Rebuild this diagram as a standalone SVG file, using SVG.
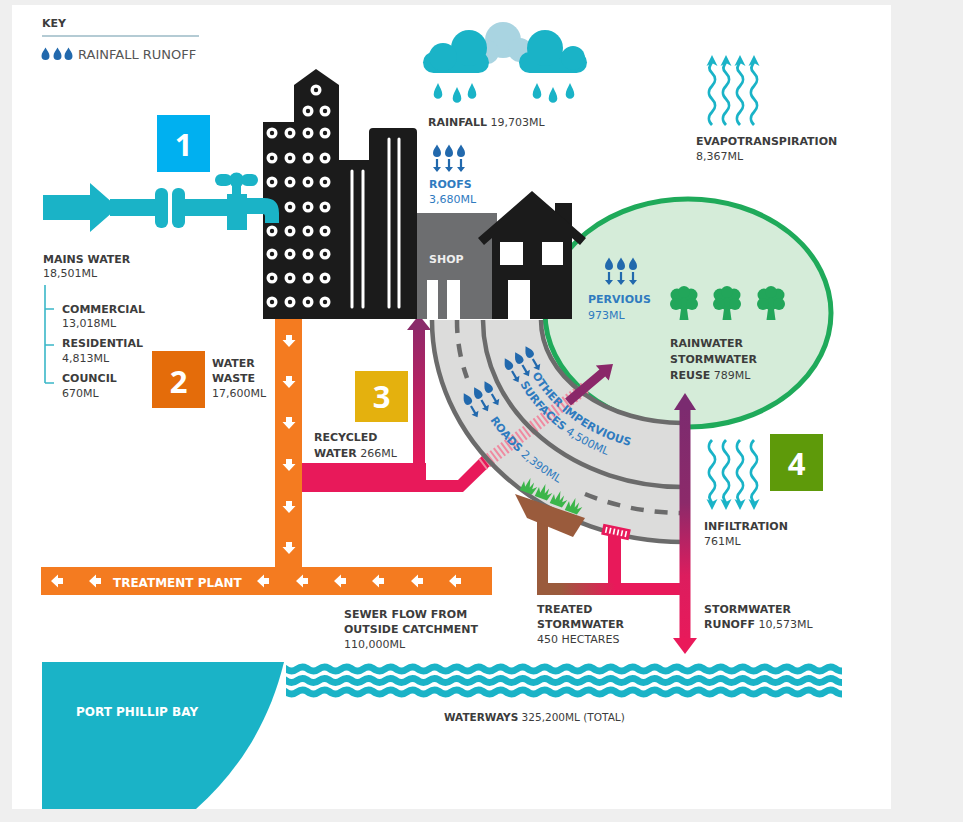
<svg xmlns="http://www.w3.org/2000/svg" width="963" height="822" viewBox="0 0 963 822">
<defs>
<style>
 .t{font-family:"DejaVu Sans","Liberation Sans",sans-serif;font-size:11px;fill:#3c3c3c}
 .b{font-weight:bold}
 .blu{fill:#2f7bbf}
 .wht{fill:#ffffff}
 .badge{font-family:"Open Sans","Liberation Sans",sans-serif;font-size:31px;font-weight:bold;fill:#ffffff;text-anchor:middle}
 .road{fill:none;stroke:#6b6b6b;stroke-width:4.5}
 .wave{fill:none;stroke:#1ab3c7;stroke-width:2.8}
 .win{fill:#ffffff}
 .dot{fill:#1b1b1b}
 .bar{stroke:#ffffff;stroke-width:3;stroke-linecap:round}
</style>
<path id="drop" d="M0,-6.5 C1.6,-3.4 4,-1 4,2 A4,4 0 0 1 -4,2 C-4,-1 -1.6,-3.4 0,-6.5Z"/>
<path id="rdrop" d="M0,-9 C2,-4.5 4.3,-1.5 4.3,2.5 A4.3,4.3 0 0 1 -4.3,2.5 C-4.3,-1.5 -2,-4.5 0,-9Z"/>
<path id="darrow" d="M-1.1,0 H1.1 V8 H4 L0,13 L-4,8 H-1.1Z"/>
<g id="runoff" fill="#2269ad">
 <use href="#drop"/><use href="#drop" x="12"/><use href="#drop" x="24"/>
 <use href="#darrow" y="8"/><use href="#darrow" x="12" y="8"/><use href="#darrow" x="24" y="8"/>
</g>
<g id="wv">
 <path class="wave" d="M0,70 C-4,66 -4,61 0,57 S4,48 0,44 S-4,35 0,31 S4,22 0,18 S-3,12 0,7"/>
 <path d="M-5.5,11 L0,0 L5.5,11 L0,8Z" fill="#1ab3c7"/>
</g>
<path id="ad" d="M-3,-6 H3 V-1 H6.5 L0,6 L-6.5,-1 H-3Z" fill="#ffffff"/>
<path id="al" d="M6,-3 V3 H1 V6.5 L-6,0 L1,-6.5 V-3Z" fill="#ffffff"/>
<g id="win"><circle r="5.5" class="win"/><circle r="2.2" class="dot"/></g>
<g id="tree" fill="#22a65a">
 <circle cx="0" cy="-1" r="10"/><circle cx="-7" cy="-6" r="6.5"/><circle cx="7" cy="-6" r="6.5"/>
 <circle cx="0" cy="-9" r="6"/><circle cx="-8" cy="3" r="6"/><circle cx="8" cy="3" r="6"/>
 <path d="M-3,8 L-4.5,19 H4.5 L3,8Z"/>
</g>
<path id="tuft" d="M-7,8 L-6,-2 L-3,3 L-1,-7 L1.5,2 L4,-4 L4.5,3 L8.5,-1 L6,8Z" fill="#3cb54a"/>
<linearGradient id="gMain" x1="0" y1="393" x2="0" y2="654" gradientUnits="userSpaceOnUse">
 <stop offset="0" stop-color="#7a2b70"/><stop offset="0.42" stop-color="#8c2a6a"/>
 <stop offset="0.7" stop-color="#dc1d5e"/><stop offset="1" stop-color="#ea195a"/>
</linearGradient>
<linearGradient id="gRec" x1="0" y1="316" x2="0" y2="470" gradientUnits="userSpaceOnUse">
 <stop offset="0" stop-color="#8a2a6a"/><stop offset="1" stop-color="#e8195a"/>
</linearGradient>
<linearGradient id="gBot" x1="560" y1="0" x2="615" y2="0" gradientUnits="userSpaceOnUse">
 <stop offset="0" stop-color="#9a5b3c"/><stop offset="1" stop-color="#e8195a"/>
</linearGradient>
<pattern id="pw" patternUnits="userSpaceOnUse" x="286" y="660" width="22" height="40">
 <path d="M-11,9 Q-5.5,5 0,9 T11,9 T22,9 T33,9" fill="none" stroke="#1ab3c7" stroke-width="7"/>
 <path d="M-11,20.5 Q-5.5,16.5 0,20.5 T11,20.5 T22,20.5 T33,20.5" fill="none" stroke="#1ab3c7" stroke-width="7"/>
 <path d="M-11,32 Q-5.5,28 0,32 T11,32 T22,32 T33,32" fill="none" stroke="#1ab3c7" stroke-width="7"/>
</pattern>
<path id="tp1" d="M532,375 A166,135 0 0 0 683,453"/>
<path id="tp2" d="M520,384 A181,151 0 0 0 683,469"/>
<path id="tp3" d="M490,420 A225,198 0 0 0 683,516"/>
</defs>

<!-- page -->
<rect width="963" height="822" fill="#efefef"/>
<rect x="12" y="5" width="879" height="804" fill="#ffffff"/>

<!-- key -->
<g id="key">
 <text class="t b" x="42" y="27">KEY</text>
 <line x1="42" y1="36" x2="199" y2="36" stroke="#9bbac6" stroke-width="1.5"/>
 <g fill="#2269ad"><use href="#drop" x="45.5" y="54"/><use href="#drop" x="57.5" y="54"/><use href="#drop" x="68.5" y="54"/></g>
 <text class="t" x="78" y="59" style="font-size:13px;fill:#555">RAINFALL RUNOFF</text>
</g>

<!-- rainfall -->
<g id="rainfall">
 <g fill="#a9d4e1"><circle cx="503" cy="40" r="18"/><circle cx="487" cy="52" r="12"/><circle cx="520" cy="50" r="12"/></g>
 <g fill="#1ab3c7">
  <rect x="423" y="52" width="66" height="21" rx="10.5"/><circle cx="469" cy="48" r="18"/><circle cx="443" cy="57" r="14"/>
  <rect x="519" y="52" width="68" height="21" rx="10.5"/><circle cx="545" cy="48" r="18"/><circle cx="573" cy="58" r="12"/>
  <use href="#rdrop" x="438" y="92"/><use href="#rdrop" x="457" y="96"/><use href="#rdrop" x="472" y="92"/>
  <use href="#rdrop" x="537" y="92"/><use href="#rdrop" x="553" y="96"/><use href="#rdrop" x="570" y="92"/>
 </g>
 <text class="t" x="428" y="126"><tspan class="b">RAINFALL</tspan> 19,703ML</text>
</g>

<!-- roofs -->
<g id="roofs">
 <use href="#runoff" x="437" y="151"/>
 <text class="t b blu" x="429" y="188">ROOFS</text>
 <text class="t blu" x="429" y="203">3,680ML</text>
</g>

<!-- evapotranspiration -->
<g id="evapotranspiration">
 <use href="#wv" x="712" y="55"/><use href="#wv" x="726" y="55"/><use href="#wv" x="740" y="55"/><use href="#wv" x="754" y="55"/>
 <text class="t b" x="696" y="145">EVAPOTRANSPIRATION</text>
 <text class="t" x="696" y="160">8,367ML</text>
</g>

<!-- pervious open space -->
<g id="pervious">
 <ellipse cx="688" cy="313" rx="143" ry="114" fill="#d5ecd9" stroke="#1faa5a" stroke-width="5"/>
 <use href="#runoff" x="609" y="264"/>
 <text class="t b blu" x="588" y="303">PERVIOUS</text>
 <text class="t blu" x="588" y="319">973ML</text>
 <use href="#tree" x="684" y="301"/><use href="#tree" x="727" y="301"/><use href="#tree" x="771" y="301"/>
 <text class="t b" x="670" y="347">RAINWATER</text>
 <text class="t b" x="670" y="363">STORMWATER</text>
 <text class="t" x="670" y="379"><tspan class="b">REUSE</tspan> 789ML</text>
</g>

<!-- connectors -->
<g id="connectors">
 <!-- recycled water -->
 <g id="recycled">
  <rect x="302" y="463" width="124" height="29" fill="#e8195a"/>
  <path d="M420,480 H458 L487,451 L496,460 L463,492 H420Z" fill="#e8195a"/>
  <rect x="413" y="326" width="12" height="160" fill="url(#gRec)"/>
  <polygon points="407,330 419,315 431,330" fill="#8a2a6a"/>
 </g>

 <!-- roads and impervious surfaces -->
 <g id="roads">
  <path d="M432,320 A251,222 0 0 0 683,542 L683,423 A141,103 0 0 1 542,320 Z" fill="#dcdcdb"/>
  <path d="M585,388 L482,465" stroke="#ef8aa0" stroke-width="13" stroke-dasharray="2 2.5" fill="none"/>
  <path class="road" d="M432,320 A251,222 0 0 0 683,542"/>
  <path class="road" d="M483,320 A200,167 0 0 0 683,487"/>
  <path class="road" d="M541,320 A142,103 0 0 0 683,423"/>
  <path class="road" stroke-dasharray="13 11" d="M457,320 A226,193 0 0 0 467,378"/>
  <path class="road" stroke-dasharray="13 11" d="M585,494 A226,193 0 0 0 683,513"/>
  <use href="#runoff" transform="translate(508,364) rotate(-30)"/>
  <use href="#runoff" transform="translate(467,399) rotate(-30)"/>
  <text class="t b blu"><textPath href="#tp1">OTHER IMPERVIOUS</textPath></text>
  <text class="t blu"><textPath href="#tp2"><tspan class="b">SURFACES</tspan> 4,500ML</textPath></text>
  <text class="t blu"><textPath href="#tp3"><tspan class="b">ROADS</tspan> 2,390ML</textPath></text>
 </g>

 <!-- to reuse -->
 <polygon points="565.1,398.6 599.4,369.6 595.8,365.4 613,364 608.8,380.6 605.2,376.4 570.9,405.4" fill="#8a2869"/>

 <!-- treated stormwater -->
 <g id="treated">
  <rect x="537" y="518" width="11" height="77" fill="#9a5b3c"/>
  <rect x="608" y="536" width="13" height="50" fill="#e8195a"/>
  <rect x="537" y="583" width="148" height="12" fill="url(#gBot)"/>
  <polygon points="515,494 585,518 573,537 527,518" fill="#9a5b3c"/>
  <use href="#tuft" transform="translate(529,485) rotate(20)"/>
  <use href="#tuft" transform="translate(544,491) rotate(20)"/>
  <use href="#tuft" transform="translate(559,498) rotate(20)"/>
  <use href="#tuft" transform="translate(574,505) rotate(20)"/>
  <g transform="translate(616,532) rotate(12)">
   <rect x="-14" y="-5.5" width="28" height="11" fill="#e8195a"/>
   <g stroke="#ffffff" stroke-width="1.6"><line x1="-10" y1="-3" x2="-10" y2="3"/><line x1="-6" y1="-3" x2="-6" y2="3"/><line x1="-2" y1="-3" x2="-2" y2="3"/><line x1="2" y1="-3" x2="2" y2="3"/><line x1="6" y1="-3" x2="6" y2="3"/><line x1="10" y1="-3" x2="10" y2="3"/></g>
  </g>
 </g>

 <!-- stormwater runoff -->
 <g id="runoff-flow">
  <rect x="679.5" y="405" width="11" height="236" fill="url(#gMain)"/>
  <polygon points="674,410 685,393 696,410" fill="#7a2b70"/>
  <polygon points="673,638 697,638 685,654" fill="#ea195a"/>
 </g>

 <!-- sewer -->
 <g id="sewer">
  <rect x="275" y="319" width="27" height="262" fill="#f47b20"/>
  <rect x="41" y="567" width="451" height="28" fill="#f47b20"/>
  <use href="#ad" x="289" y="341"/><use href="#ad" x="289" y="382"/><use href="#ad" x="289" y="423"/>
  <use href="#ad" x="289" y="465"/><use href="#ad" x="289" y="507"/><use href="#ad" x="289" y="548"/>
  <use href="#al" x="57" y="581"/><use href="#al" x="95" y="581"/><use href="#al" x="263" y="581"/>
  <use href="#al" x="302" y="581"/><use href="#al" x="340" y="581"/><use href="#al" x="378" y="581"/>
  <use href="#al" x="417" y="581"/><use href="#al" x="455" y="581"/>
  <text class="t b wht" x="113" y="587" style="font-size:12px">TREATMENT PLANT</text>
 </g>
</g>

<!-- shop -->
<g id="shop">
 <rect x="417" y="213" width="80" height="106" fill="#6d6e70"/>
 <text class="t b" x="429" y="263" style="fill:#eeeeee">SHOP</text>
 <rect x="427" y="280" width="11" height="39" fill="#ffffff"/>
 <rect x="447" y="280" width="13" height="39" fill="#ffffff"/>
</g>

<!-- house -->
<g id="house">
 <rect x="555" y="203" width="17" height="30" fill="#1b1b1b"/>
 <path d="M478,238 L532,191 L586,238 L580,245 L572,238 V319 H492 V238 L484,245 Z" fill="#1b1b1b"/>
 <rect x="500" y="242" width="23" height="23" fill="#ffffff"/>
 <rect x="542" y="242" width="21" height="23" fill="#ffffff"/>
 <rect x="508" y="280" width="22" height="39" fill="#ffffff"/>
</g>

<!-- city buildings -->
<g id="buildings">
 <path d="M263,122 H294 V85 L316,69 L339,85 V160 H369 V132 Q369,128 373,128 H413 Q417,128 417,132 V319 H263 Z" fill="#1b1b1b"/>
 <g class="bar"><line x1="352" y1="171" x2="352" y2="307"/><line x1="363" y1="171" x2="363" y2="307"/>
  <line x1="389" y1="139" x2="389" y2="307"/><line x1="399" y1="139" x2="399" y2="307"/></g>
 <use href="#win" x="316" y="90"/><use href="#win" x="308" y="111"/><use href="#win" x="325" y="111"/>
 <use href="#win" x="272" y="133"/><use href="#win" x="290" y="133"/><use href="#win" x="308" y="133"/><use href="#win" x="325" y="133"/>
 <use href="#win" x="272" y="158"/><use href="#win" x="290" y="158"/><use href="#win" x="308" y="158"/><use href="#win" x="325" y="158"/>
 <use href="#win" x="272" y="182"/><use href="#win" x="290" y="182"/><use href="#win" x="308" y="182"/><use href="#win" x="325" y="182"/>
 <use href="#win" x="290" y="207"/><use href="#win" x="308" y="207"/><use href="#win" x="325" y="207"/>
 <use href="#win" x="272" y="231"/><use href="#win" x="290" y="231"/><use href="#win" x="308" y="231"/><use href="#win" x="325" y="231"/>
 <use href="#win" x="272" y="254"/><use href="#win" x="290" y="254"/><use href="#win" x="308" y="254"/><use href="#win" x="325" y="254"/>
 <use href="#win" x="272" y="278"/><use href="#win" x="290" y="278"/><use href="#win" x="308" y="278"/><use href="#win" x="325" y="278"/>
 <use href="#win" x="272" y="302"/><use href="#win" x="290" y="302"/><use href="#win" x="308" y="302"/><use href="#win" x="325" y="302"/>
</g>

<!-- mains water pipe and tap -->
<g id="mains" fill="#1ab3c7">
 <path d="M43,195 H90 V183 L118,207.5 L90,232 V220 H43 Z"/>
 <rect x="110" y="199" width="48" height="17"/>
 <rect x="155" y="188" width="13" height="40" rx="6"/>
 <rect x="172" y="188" width="13" height="40" rx="6"/>
 <rect x="184" y="199" width="45" height="17"/>
 <rect x="227" y="194" width="20" height="36"/>
 <rect x="232" y="184" width="9" height="11"/>
 <circle cx="236.5" cy="180" r="7.5"/>
 <rect x="215" y="174" width="17" height="12" rx="6"/>
 <rect x="241" y="174" width="17" height="12" rx="6"/>
 <path d="M246,198 H264 Q279,198 279,213 V223 H265 V216 Q265,214 263,214 H246 Z"/>
</g>

<!-- labels -->
<g id="labels">
 <text class="t b" x="43" y="263">MAINS WATER</text>
 <text class="t" x="43" y="277">18,501ML</text>
 <path d="M45,285 V383 M45,309 H54 M45,345 H54 M45,383 H54" fill="none" stroke="#3ab7c8" stroke-width="1.6"/>
 <text class="t b" x="62" y="313">COMMERCIAL</text>
 <text class="t" x="62" y="327">13,018ML</text>
 <text class="t b" x="62" y="347">RESIDENTIAL</text>
 <text class="t" x="62" y="362">4,813ML</text>
 <text class="t b" x="62" y="382">COUNCIL</text>
 <text class="t" x="62" y="397">670ML</text>
 <text class="t b" x="212" y="367">WATER</text>
 <text class="t b" x="212" y="382">WASTE</text>
 <text class="t" x="212" y="397">17,600ML</text>
 <text class="t b" x="314" y="441">RECYCLED</text>
 <text class="t" x="314" y="457"><tspan class="b">WATER</tspan> 266ML</text>
 <text class="t b" x="704" y="530">INFILTRATION</text>
 <text class="t" x="704" y="545">761ML</text>
 <text class="t b" x="537" y="613">TREATED</text>
 <text class="t b" x="537" y="628">STORMWATER</text>
 <text class="t" x="537" y="643">450 HECTARES</text>
 <text class="t b" x="704" y="613">STORMWATER</text>
 <text class="t" x="704" y="628"><tspan class="b">RUNOFF</tspan> 10,573ML</text>
 <text class="t b" x="344" y="618">SEWER FLOW FROM</text>
 <text class="t b" x="344" y="633">OUTSIDE CATCHMENT</text>
 <text class="t" x="344" y="648">110,000ML</text>
</g>

<!-- infiltration -->
<g id="infiltration">
 <use href="#wv" transform="translate(712,510) scale(1,-1)"/>
 <use href="#wv" transform="translate(726,510) scale(1,-1)"/>
 <use href="#wv" transform="translate(740,510) scale(1,-1)"/>
 <use href="#wv" transform="translate(754,510) scale(1,-1)"/>
</g>

<!-- receiving waters -->
<g id="bay">
 <path d="M42,662 H284 C270,720 240,770 196,809 H42 Z" fill="#1ab3c7"/>
 <text class="t b wht" x="76" y="716" style="font-size:12px">PORT PHILLIP BAY</text>
</g>
<g id="waterways">
 <rect x="286" y="660" width="556" height="40" fill="url(#pw)"/>
 <text class="t" x="444" y="721" style="font-size:10.5px"><tspan class="b">WATERWAYS</tspan> 325,200ML (TOTAL)</text>
</g>

<!-- numbered markers -->
<g id="marker-1"><rect x="157" y="115" width="53" height="57" fill="#00b0f0"/><text class="badge" x="183.5" y="156">1</text></g>
<g id="marker-2"><rect x="152" y="351" width="53" height="57" fill="#e46c0a"/><text class="badge" x="178.5" y="393">2</text></g>
<g id="marker-3"><rect x="355" y="371" width="53" height="51" fill="#e4b10e"/><text class="badge" x="381.5" y="408">3</text></g>
<g id="marker-4"><rect x="770" y="434" width="53" height="57" fill="#5e9a0a"/><text class="badge" x="796.5" y="475">4</text></g>
</svg>
